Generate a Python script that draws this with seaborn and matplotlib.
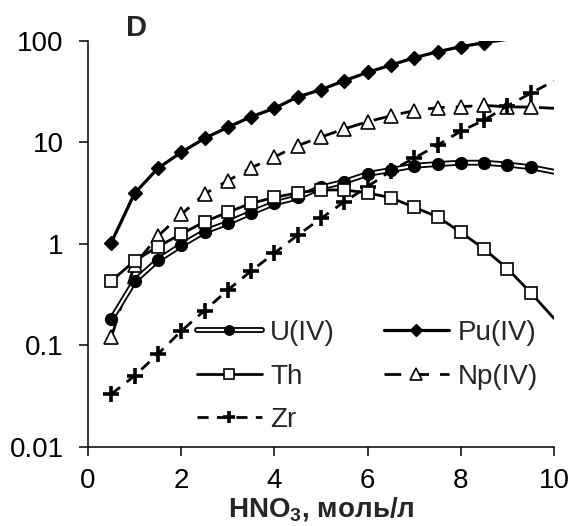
import numpy as np
import pandas as pd
import matplotlib
matplotlib.use("Agg")
import matplotlib.pyplot as plt
import seaborn as sns
from matplotlib.ticker import FixedLocator, FixedFormatter, NullLocator
from matplotlib.legend_handler import HandlerTuple

# ---- data ----
x_main = [0.5, 1, 1.5, 2, 2.5, 3, 3.5, 4, 4.5, 5, 5.5, 6, 6.5, 7, 7.5, 8, 8.5, 9, 9.5]
x_pu = [0.5, 1, 1.5, 2, 2.5, 3, 3.5, 4, 4.5, 5, 5.5, 6, 6.5, 7, 7.5, 8, 8.5]

u_iv = [0.18, 0.43, 0.69, 0.97, 1.32, 1.61, 2.03, 2.51, 2.87, 3.6, 4.09, 4.88, 5.35, 5.89, 6.12, 6.31, 6.31, 6.05, 5.7]
pu_iv = [1.03, 3.15, 5.56, 7.98, 10.96, 14.1, 17.9, 21.7, 28.1, 33.1, 40.6, 49.1, 57.9, 68.4, 78.3, 87.9, 96.2]
th = [0.43, 0.68, 0.94, 1.25, 1.65, 2.05, 2.51, 2.87, 3.19, 3.40, 3.40, 3.18, 2.85, 2.29, 1.85, 1.30, 0.89, 0.57, 0.33]
np_iv = [0.12, 0.62, 1.19, 1.95, 3.1, 4.2, 5.6, 7.2, 9.3, 11.3, 13.6, 16.0, 18.3, 20.6, 22.0, 22.5, 23.2, 22.4, 22.3]
zr = [0.033, 0.050, 0.082, 0.138, 0.22, 0.35, 0.54, 0.81, 1.22, 1.78, 2.6, 3.66, 5.26, 7.0, 9.4, 12.9, 16.6, 22.9, 30.5]

# trend-line end points (lines continue past the last marker)
x_end_main = 10.0
u_end, th_end, np_end, zr_end = 5.14, 0.184, 21.7, 40.4
x_end_pu, pu_end = 9.0, 104.0

labels = ["U(IV)", "Pu(IV)", "Th", "Np(IV)", "Zr"]
y_ticks = [0.01, 0.1, 1, 10, 100]
y_tick_labels = ["0.01", "0.1", "1", "10", "100"]
x_ticks = [0, 2, 4, 6, 8, 10]

# ---- style ----
sns.set_style("ticks")
plt.rcParams["font.family"] = ["Liberation Sans", "DejaVu Sans"]
plt.rcParams["mathtext.fontset"] = "custom"
plt.rcParams["mathtext.rm"] = "Liberation Sans"
plt.rcParams["mathtext.bf"] = "Liberation Sans:bold"
FS = 20

fig = plt.figure(figsize=(5.72, 5.26), dpi=100)
ax = fig.add_axes([88 / 572, 1 - 446.7 / 526, (554 - 88) / 572, (446.7 - 41) / 526])


def draw(xs, ys, xe, ye, **kw):
    xl = list(xs) + [xe]
    yl = list(ys) + [ye]
    sns.lineplot(x=xl, y=yl, ax=ax, markevery=list(range(len(xs))), **kw)
    return ax.lines[-1]


# U(IV): double line (black outline, white centre)
u_back = draw(x_main, u_iv, x_end_main, u_end, color="black", linewidth=4.2, zorder=3)
u_front = draw(x_main, u_iv, x_end_main, u_end, color="white", linewidth=1.6, marker="o",
               markersize=8.5, markerfacecolor="black", markeredgecolor="black",
               markeredgewidth=1, zorder=4)
# Pu(IV)
pu_line = draw(x_pu, pu_iv, x_end_pu, pu_end, color="black", linewidth=2.3, marker="D",
               markersize=7.5, markerfacecolor="black", markeredgecolor="black",
               markeredgewidth=1, zorder=5)
# Th
th_line = draw(x_main, th, x_end_main, th_end, color="black", linewidth=2.0, marker="s",
               markersize=8.5, markerfacecolor="white", markeredgecolor="black",
               markeredgewidth=1.2, zorder=4)
# Np(IV)
np_line = draw(x_main, np_iv, x_end_main, np_end, color="black", linewidth=2.0, marker="^",
               markersize=10, markerfacecolor="white", markeredgecolor="black",
               markeredgewidth=1.2, zorder=3)
np_line.set_dashes([6, 4])
# Zr
zr_line = draw(x_main, zr, x_end_main, zr_end, color="black", linewidth=2.0, marker="+",
               markersize=11, markeredgecolor="black", markeredgewidth=2.6, zorder=3)
zr_line.set_dashes([4, 3])

# ---- axes ----
ax.set_yscale("log")
ax.set_ylim(0.01, 100)
ax.set_xlim(0, 10)
ax.yaxis.set_major_locator(FixedLocator(y_ticks))
ax.yaxis.set_major_formatter(FixedFormatter(y_tick_labels))
ax.yaxis.set_minor_locator(NullLocator())
ax.xaxis.set_major_locator(FixedLocator(x_ticks))
ax.set_xticklabels([str(v) for v in x_ticks])
sns.despine(ax=ax)
for s in ["left", "bottom"]:
    ax.spines[s].set_linewidth(1.1)
    ax.spines[s].set_color("black")
ax.tick_params(axis="both", direction="out", length=6.5, width=1.1, color="black",
               labelsize=FS, labelcolor="black")
ax.tick_params(axis="y", pad=11)
ax.tick_params(axis="x", pad=9)
ax.set_xlabel(r"HNO$_\mathbf{3}$, моль/л", fontsize=FS, fontweight="bold", labelpad=1)
ax.set_ylabel("")

fig.text(136.5 / 572, 1 - 28 / 526, "D", fontsize=21, fontweight="bold",
         ha="center", va="center")

# ---- legend ----
handles = [(u_back, u_front), th_line, zr_line, pu_line, np_line]
leg_labels = ["U(IV)", "Th", "Zr", "Pu(IV)", "Np(IV)"]
leg = ax.legend(handles, leg_labels, handler_map={tuple: HandlerTuple(ndivide=1)},
                ncol=2, frameon=False, fontsize=FS, loc="upper left",
                bbox_to_anchor=(196.7 / 572, 1 - 320 / 526), bbox_transform=fig.transFigure,
                borderpad=0, borderaxespad=0, handlelength=2.35, handletextpad=0.3,
                columnspacing=1.75, labelspacing=0.63, markerscale=0.8)

fig.savefig("out.png", dpi=100)
